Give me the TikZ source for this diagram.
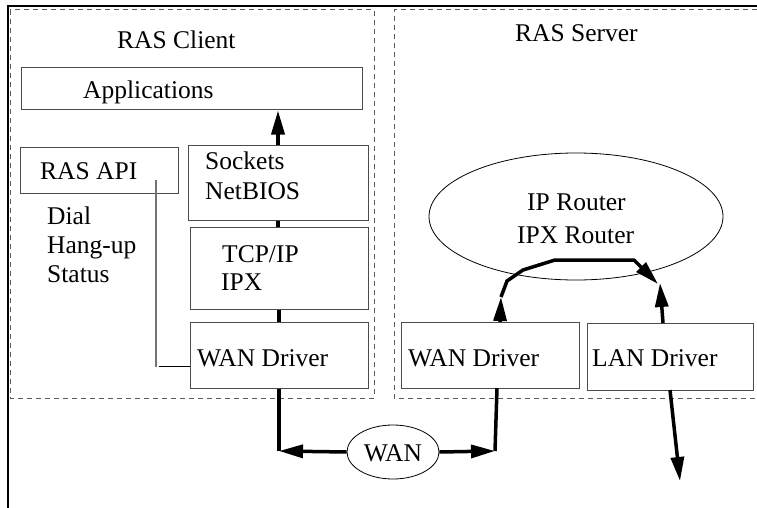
\documentclass[tikz,border=0pt]{standalone}
\usepackage{fontspec}
\setmainfont{Liberation Serif}
\usetikzlibrary{arrows.meta,shapes.geometric}
\begin{document}
\begin{tikzpicture}[x=1pt,y=-1pt,
  box/.style={draw=black!70,line width=1pt,rectangle,inner sep=0pt},
  oval/.style={draw=black,line width=0.8pt,ellipse,inner sep=0pt},
  txt/.style={anchor=base west,inner sep=0pt,font=\fontsize{25.5}{30}\selectfont},
  frame/.style={draw=black,line width=2pt},
  dashline/.style={draw=black!65,line width=1pt,dash pattern=on 5pt off 4pt},
  link/.style={line width=3.5pt,line cap=butt},
  arr/.style={link,-{Triangle[length=24pt,width=13pt]}},
  api/.style={draw=black!55,line width=1.6pt},
  thin/.style={draw=black,line width=0.9pt}]
\useasboundingbox (0,0) rectangle (757,508);
% outer frame
\draw[frame] (757,6) -- (8,6) -- (8,508);
% dashed regions
\draw[dashline] (10,10) rectangle (374,398);
\draw[dashline] (757,10) -- (394,10) -- (394,398) -- (757,398);
% boxes
\node[box,minimum width=341pt,minimum height=42pt] (apps) at (191.5,89) {};
\node[box,minimum width=158pt,minimum height=46pt] (rasapi) at (99,170) {};
\node[box,minimum width=180pt,minimum height=75pt] (sock) at (278,182.5) {};
\node[box,minimum width=178pt,minimum height=82pt] (tcp) at (279,268) {};
\node[box,minimum width=178pt,minimum height=66pt] (wanc) at (279,355) {};
\node[box,minimum width=178pt,minimum height=66pt] (wans) at (490,355) {};
\node[box,minimum width=166pt,minimum height=67pt] (lan) at (670,356.5) {};
\node[oval,minimum width=294pt,minimum height=127pt] (router) at (576,216.5) {};
\node[oval,minimum width=92pt,minimum height=54pt] (wan) at (393,452) {};
% texts
\node[txt] (tclient) at (117,49) {RAS Client};
\node[txt] (tserver) at (515,42) {RAS Server};
\node[txt] (tapps) at (83,99) {Applications};
\node[txt] (tapi) at (40,179) {RAS API};
\node[txt] (tdial) at (47,224) {Dial};
\node[txt] (thang) at (47,253) {Hang-up};
\node[txt] (tstat) at (47,282) {Status};
\node[txt] (tsock) at (205,169) {Sockets};
\node[txt] (tnetb) at (205,199) {NetBIOS};
\node[txt] (ttcp) at (222,262) {TCP/IP};
\node[txt] (tipx) at (221,290) {IPX};
\node[txt] (twanc) at (197,366) {WAN Driver};
\node[txt] (twans) at (408,366) {WAN Driver};
\node[txt] (tlan) at (592,366) {LAN Driver};
\node[txt] (tip) at (527,210) {IP Router};
\node[txt] (tipxr) at (517,243) {IPX Router};
\node[txt,anchor=base] (twan) at (393,461) {WAN};
% coordinates
\coordinate (c1) at (279,451);
\coordinate (c2) at (495,451);
\coordinate (c3) at (497,388);
\coordinate (w1) at (500,322);
\coordinate (p1) at (501,297);
\coordinate (p2) at (658,284);
\coordinate (l1) at (663,323);
\coordinate (l2) at (660,283);
\coordinate (l3) at (670,390);
\coordinate (l4) at (680,481);
\coordinate (a1) at (156,180);
\coordinate (a2) at (156,367);
\coordinate (h1) at (159,366);
% client stack connectors
\draw[arr] (sock.north) -- (sock.north |- apps.south);
\draw[link] (sock.south) -- (sock.south |- tcp.north);
\draw[link] (tcp.south) -- (wanc.north);
\draw[link] (wanc.south) -- (c1);
\draw[arr] (wan.west) -- (c1);
\draw[arr] (wan.east) -- (c2);
\draw[link] (c2) -- (c3);
% server connectors
\draw[arr] (w1) -- (p1);
\draw[link,line join=round,-{Triangle[length=24pt,width=13pt]}] (p1) -- (507,281) -- (523,270) -- (555,260) -- (634,260) -- (p2);
\draw[arr] (l1) -- (l2);
\draw[arr] (l3) -- (l4);
% RAS API link
\draw[api] (a1) -- (a2);
\draw[thin] (h1) -- (wanc.west |- h1);
\end{tikzpicture}
\end{document}
